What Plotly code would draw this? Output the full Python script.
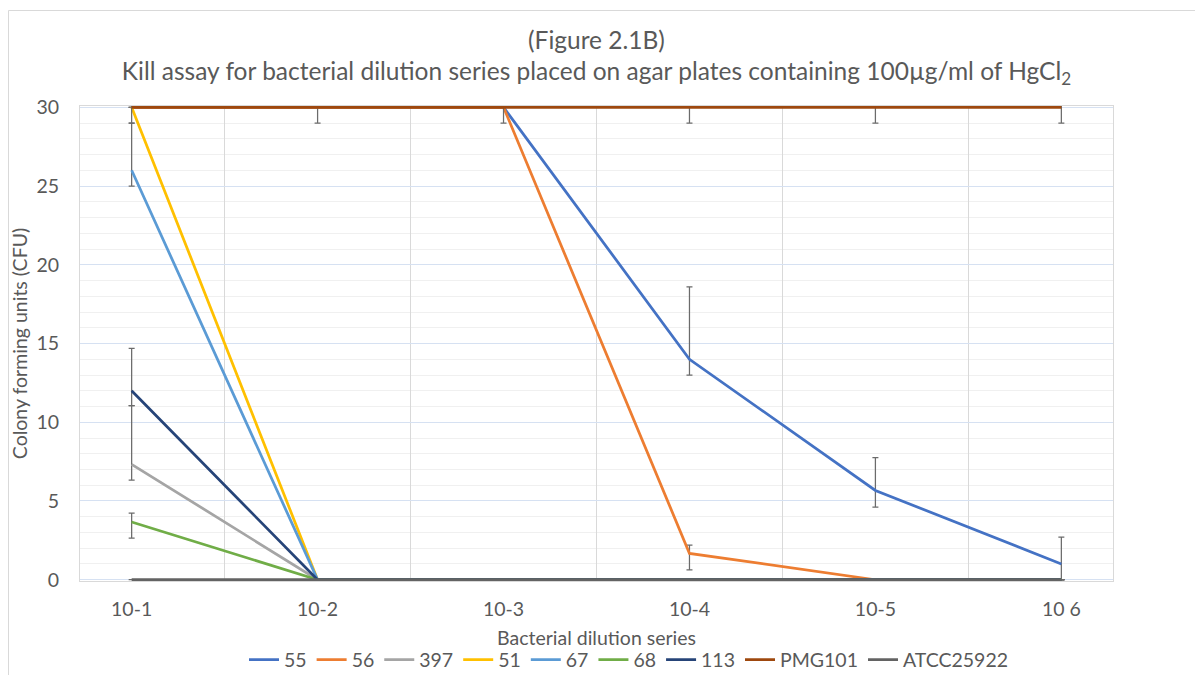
import plotly.graph_objects as go

# ---- data ----
dilutions = ["10-1", "10-2", "10-3", "10-4", "10-5", "10 6"]

s55 = [30, 30, 30, 14, 5.67, 1]
s56 = [30, 30, 30, 1.67, 0, 0]
s397 = [7.33, 0, 0, 0, 0, 0]
s51 = [30, 0, 0, 0, 0, 0]
s67 = [26, 0, 0, 0, 0, 0]
s68 = [3.67, 0, 0, 0, 0, 0]
s113 = [12, 0, 0, 0, 0, 0]
sPMG101 = [30, 30, 30, 30, 30, 30]
sATCC25922 = [0, 0, 0, 0, 0, 0]

# error bars (plus / minus)
e55_plus = [0, 0, 0, 4.6, 2.09, 1.71]
e55_minus = [0, 0, 0, 1.0, 1.06, 1.0]
e56_plus = [0, 0, 0, 0.53, 0, 0]
e56_minus = [0, 0, 0, 1.04, 0, 0]
e397_plus = [3.72, 0, 0, 0, 0, 0]
e397_minus = [1.0, 0, 0, 0, 0, 0]
e51_plus = [0, 0, 0, 0, 0, 0]
e51_minus = [0, 0, 0, 0, 0, 0]
e67_plus = [3.0, 0, 0, 0, 0, 0]
e67_minus = [1.0, 0, 0, 0, 0, 0]
e68_plus = [0.56, 0, 0, 0, 0, 0]
e68_minus = [1.03, 0, 0, 0, 0, 0]
e113_plus = [2.69, 0, 0, 0, 0, 0]
e113_minus = [0.95, 0, 0, 0, 0, 0]
ePMG_plus = [1, 1, 1, 1, 1, 1]
ePMG_minus = [1, 1, 1, 1, 1, 1]
eATCC_plus = [0, 0, 0, 0, 0, 0]
eATCC_minus = [0, 0, 0, 0, 0, 0]

series = [
    ("55", s55, e55_plus, e55_minus, "#4472C4"),
    ("56", s56, e56_plus, e56_minus, "#ED7D31"),
    ("397", s397, e397_plus, e397_minus, "#A5A5A5"),
    ("51", s51, e51_plus, e51_minus, "#FFC000"),
    ("67", s67, e67_plus, e67_minus, "#5B9BD5"),
    ("68", s68, e68_plus, e68_minus, "#70AD47"),
    ("113", s113, e113_plus, e113_minus, "#264478"),
    ("PMG101", sPMG101, ePMG_plus, ePMG_minus, "#9E480E"),
    ("ATCC25922", sATCC25922, eATCC_plus, eATCC_minus, "#636363"),
]

X_TITLE = "Bacterial dilution series"
Y_TITLE = "Colony forming units (CFU)"

FONT = "Lato"
TXT = "#595959"

W, H = 1195, 667
L, R, T, B = 72, 90, 98, 94
PW = W - L - R
PH = H - T - B

fig = go.Figure()
for name, vals, ep, em, color in series:
    fig.add_trace(go.Scatter(
        x=dilutions, y=vals, name=name, mode="lines",
        line=dict(color=color, width=2.75),
        error_y=dict(type="data", symmetric=False, array=ep, arrayminus=em,
                     color="#6b6b6b", thickness=1.25, width=3),
    ))

fig.update_layout(
    width=W, height=H,
    paper_bgcolor="white", plot_bgcolor="white",
    margin=dict(l=L, r=R, t=T, b=B, autoexpand=False),
    font=dict(family=FONT, color=TXT, size=19.5),
    title=dict(
        text="(Figure 2.1B)<br>Kill assay for bacterial dilution series placed on agar plates containing 100µg/ml of HgCl<sub>2</sub>",
        x=0.5, xref="paper", xanchor="center",
        y=1 - 40.5 / H, yref="container", yanchor="middle",
        font=dict(family=FONT, size=24.5, color=TXT),
    ),
    xaxis=dict(
        type="category", tickson="boundaries",
        showgrid=True, gridcolor="#D9D9D9", gridwidth=1,
        showline=True, linecolor="#D9D9D9", mirror=True,
        ticks="", ticklabelstandoff=11,
        zeroline=False,
    ),
    yaxis=dict(
        range=[-0.08, 30.08], tickmode="array", tickvals=[0, 5, 10, 15, 20, 25, 30],
        showgrid=True, gridcolor="#D6E1F2", gridwidth=1,
        minor=dict(dtick=1, showgrid=True, gridcolor="#F0F0F0", gridwidth=1),
        showline=True, linecolor="#D9D9D9", mirror=True,
        ticks="", ticklabelstandoff=16, zeroline=False,
        title=dict(text=Y_TITLE, font=dict(size=19.5, color=TXT)),
    ),
    legend=dict(
        orientation="h", xref="paper", x=(621 - L) / PW, xanchor="center",
        yref="container", y=1 - 652 / H, yanchor="middle",
        font=dict(size=19.5, color=TXT), bgcolor="rgba(0,0,0,0)",
    ),
    annotations=[dict(
        text=X_TITLE, xref="paper", yref="paper",
        x=0.5, y=(T + PH - 629) / PH, xanchor="center", yanchor="middle",
        showarrow=False, font=dict(size=19.5, color=TXT, family=FONT),
    )],
    shapes=[dict(
        type="rect", xref="paper", yref="paper", layer="below",
        x0=(0.5 - L) / PW, x1=(1250 - L) / PW,
        y0=(T + PH - 720) / PH, y1=(T + PH - 2.5) / PH,
        line=dict(color="#D9D9D9", width=1), fillcolor="rgba(0,0,0,0)",
    )],
)

fig.write_html("out.html")
